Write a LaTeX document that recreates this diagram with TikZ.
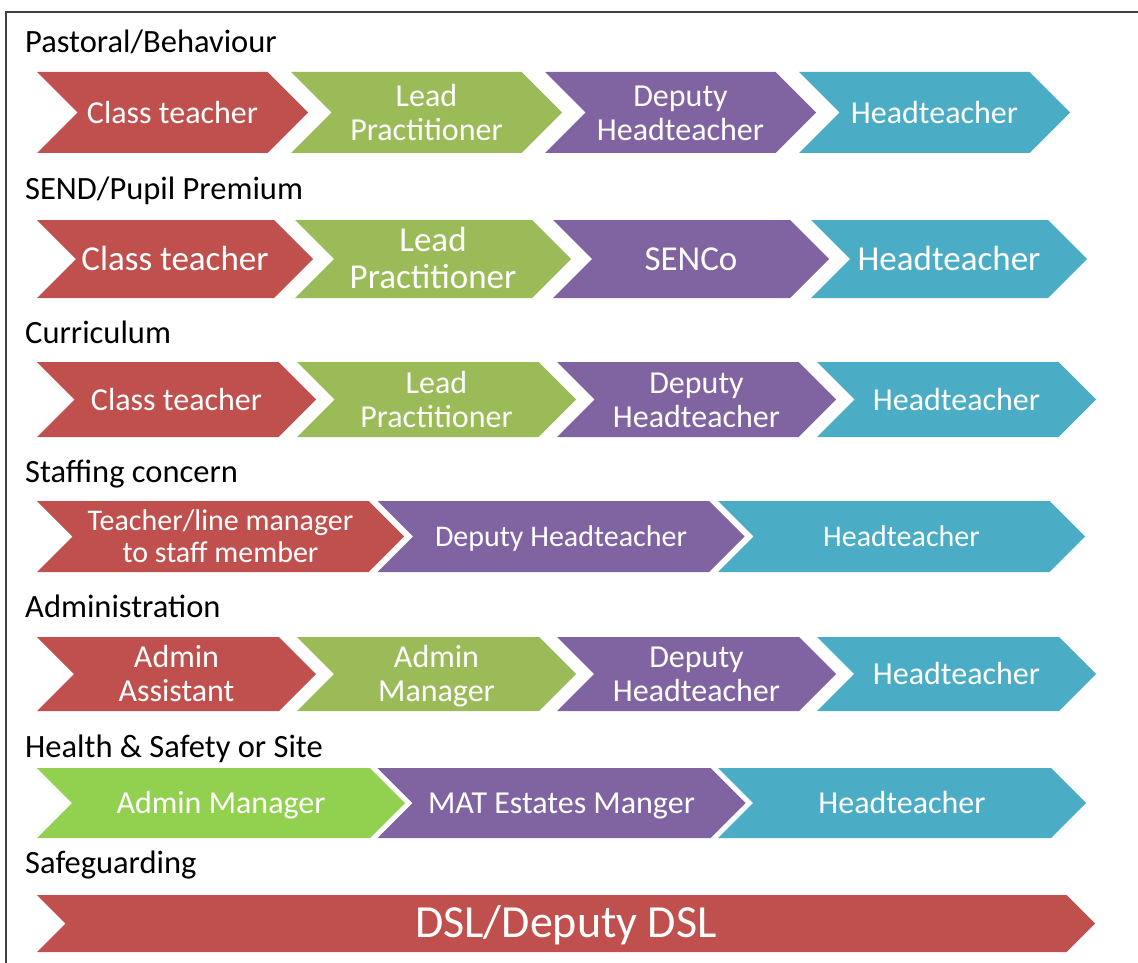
\documentclass[tikz,border=0pt]{standalone}
\usepackage{fontspec}
\setmainfont{Carlito}

\definecolor{chevred}{HTML}{C0504D}
\definecolor{chevgreen}{HTML}{9BBB59}
\definecolor{chevlime}{HTML}{92D050}
\definecolor{chevpurple}{HTML}{8064A2}
\definecolor{chevblue}{HTML}{4BACC6}
\definecolor{framegray}{HTML}{404040}

% chevron: name, left x, top y, width to tip, height, colour, text style, text
\newcommand{\chev}[8]{%
  \fill[#6] (#2,#3) -- ++({#4-#5/2},0) -- ++({#5/2},{#5/2}) -- ++({-#5/2},{#5/2})
    -- ++({#5/2-#4},0) -- ++({#5/2},{-#5/2}) -- cycle;
  \node[chev text, #7] (#1) at ({#2+#4/2},{#3+#5/2}) {\strut#8\strut};}

\begin{document}
\begin{tikzpicture}[x=1pt, y=-1pt,
						% Define styles for headings and chevron texts
						heading/.style={anchor=base west, inner sep=0pt, font=\fontsize{32.5}{37}\selectfont},
						chev text/.style={text=white, align=center, inner sep=0pt, yshift=-4pt},
						normal size/.style={font=\fontsize{32}{34}\selectfont},
						large size/.style={font=\fontsize{35}{37}\selectfont},
						small size/.style={font=\fontsize{30}{32}\selectfont},
						huge size/.style={font=\fontsize{46}{50}\selectfont}
						]
						
						\useasboundingbox (0,0) rectangle (1138,963);
						\draw[framegray, line width=1.5pt] (6,963) -- (6,12) -- (1138,12);
						
						% --- Pastoral/Behaviour ---
						\node[heading] (pastoral) at (25,53) {Pastoral/Behaviour};
						\chev{pastClass}{37}{72}{271}{81}{chevred}{normal size}{Class teacher}
						\chev{pastLead}{291}{72}{271}{81}{chevgreen}{normal size}{Lead\\Practitioner}
						\chev{pastDeputy}{545}{72}{271}{81}{chevpurple}{normal size}{Deputy\\Headteacher}
						\chev{pastHead}{799}{72}{271}{81}{chevblue}{normal size}{Headteacher}
						
						% --- SEND/Pupil Premium ---
						\node[heading] (send) at (25,200) {SEND/Pupil Premium};
						\chev{sendClass}{37}{220}{276}{78}{chevred}{large size}{Class teacher}
						\chev{sendLead}{295}{220}{276}{78}{chevgreen}{large size}{Lead\\Practitioner}
						\chev{sendSenco}{553}{220}{276}{78}{chevpurple}{large size}{SENCo}
						\chev{sendHead}{811}{220}{276}{78}{chevblue}{large size}{Headteacher}
						
						% --- Curriculum ---
						\node[heading] (curriculum) at (25,343) {Curriculum};
						\chev{currClass}{37}{362}{279}{75}{chevred}{normal size}{Class teacher}
						\chev{currLead}{297}{362}{279}{75}{chevgreen}{normal size}{Lead\\Practitioner}
						\chev{currDeputy}{557}{362}{279}{75}{chevpurple}{normal size}{Deputy\\Headteacher}
						\chev{currHead}{817}{362}{279}{75}{chevblue}{normal size}{Headteacher}
						
						% --- Staffing concern ---
						\node[heading] (staffing) at (25,482) {Staffing concern};
						\chev{staffTeacher}{37}{501}{367}{71}{chevred}{small size}{Teacher/line manager\\to staff member}
						\chev{staffDeputy}{377.5}{501}{367}{71}{chevpurple}{small size}{Deputy Headteacher}
						\chev{staffHead}{718}{501}{367}{71}{chevblue}{small size}{Headteacher}
						
						% --- Administration ---
						\node[heading] (administration) at (25,617) {Administration};
						\chev{adminAssistant}{37}{637}{279}{74}{chevred}{normal size}{Admin\\Assistant}
						\chev{adminManager}{297}{637}{279}{74}{chevgreen}{normal size}{Admin\\Manager}
						\chev{adminDeputy}{557}{637}{279}{74}{chevpurple}{normal size}{Deputy\\Headteacher}
						\chev{adminHead}{817}{637}{279}{74}{chevblue}{normal size}{Headteacher}
						
						% --- Health & Safety or Site ---
						\node[heading] (health) at (25,757) {Health \& Safety or Site};
						\chev{siteManager}{37}{768}{368}{70}{chevlime}{normal size}{Admin Manager}
						\chev{siteEstates}{377.5}{768}{368}{70}{chevpurple}{normal size}{MAT Estates Manger}
						\chev{siteHead}{718}{768}{368}{70}{chevblue}{normal size}{Headteacher}
						
						% --- Safeguarding ---
						\node[heading] (safeguarding) at (25,873) {Safeguarding};
						\chev{safeDsl}{37}{895}{1058}{57}{chevred}{huge size}{DSL/Deputy DSL}
					\end{tikzpicture}
\end{document}
